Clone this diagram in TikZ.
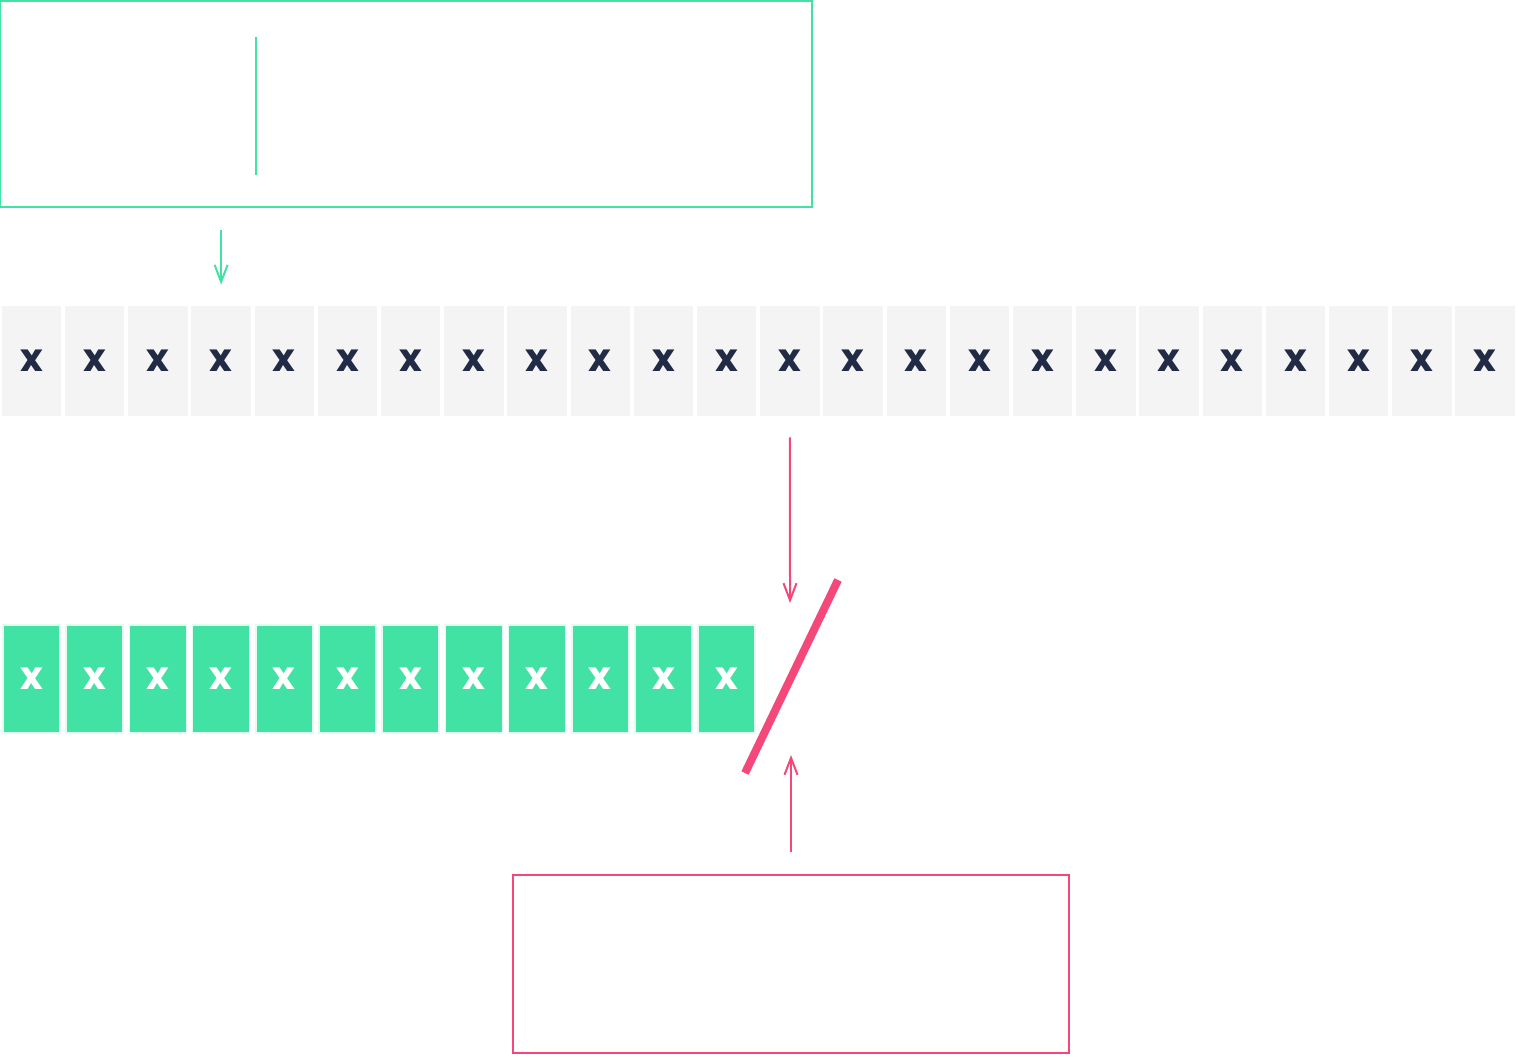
\documentclass[tikz,border=0pt]{standalone}
\usepackage{fontspec}
\setmainfont{Poppins}
\usetikzlibrary{arrows.meta,positioning}
\definecolor{mint}{HTML}{42E2A4}
\definecolor{rose}{HTML}{F5487A}
\definecolor{ink}{HTML}{222B45}
\definecolor{cellgray}{HTML}{F4F4F4}

\begin{document}
\begin{tikzpicture}[
  x=0.2mm,y=-0.2mm,
  >={Straight Barb[length=3.4mm,width=2.6mm]},
  cellnode/.style={inner sep=0pt,font=\fontsize{22}{24}\selectfont\bfseries},
  graycell/.style={cellnode,fill=cellgray,text=ink,minimum width=11.9mm,minimum height=22mm},
  mintcell/.style={cellnode,fill=mint,draw=mint!15,line width=0.3mm,text=white,minimum width=11.4mm,minimum height=21.6mm},
  mintline/.style={draw=mint,line width=0.4mm},
  roseline/.style={draw=rose,line width=0.4mm}
]
\useasboundingbox (0,0) rectangle (1518,1056);

% ---- top box ----
\node[mintline,minimum width=162.4mm,minimum height=41.2mm] (topbox) at (406,104) {};
\coordinate (cursortop) at (256,37);
\coordinate (cursorbot) at (256,175);
\draw[mint,line width=0.3mm] (cursortop) -- (cursorbot);

% ---- gray row ----
\foreach \i in {1,...,24}
  \node[graycell] (cell\i) at ({31.5+63.2*(\i-1)},361) {x};

\draw[->,mintline,shorten <=4.4mm,shorten >=4.2mm] (topbox.south -| cell4.north) -- (cell4.north);

% ---- mint row ----
\foreach \i in {1,...,12}
  \node[mintcell] (tok\i) at ({31.5+63.2*(\i-1)},679) {x};

% ---- cut mark ----
\coordinate (slashtop) at (838,580);
\coordinate (slashbot) at (745,773);
\draw[rose,line width=1.6mm] (slashbot) -- (slashtop);

\coordinate (droptip) at (790,603);
\draw[->,roseline,shorten <=4.2mm] (cell13.south) -- (droptip);

% ---- bottom box ----
\node[roseline,minimum width=111.2mm,minimum height=35.6mm] (notebox) at (791,964) {};
\coordinate (risetip) at (791,755);
\draw[->,roseline,shorten <=4.4mm] (notebox.north) -- (risetip);

\end{tikzpicture}
\end{document}
